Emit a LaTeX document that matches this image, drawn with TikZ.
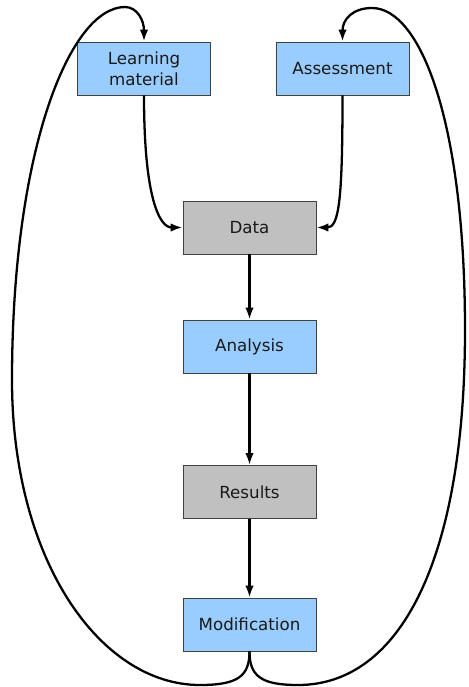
\documentclass[tikz,border=0pt]{standalone}
\usepackage{fontspec}
\setmainfont{DejaVu Sans}
\usepackage{tikz}
\usetikzlibrary{arrows.meta}
\definecolor{boxblue}{HTML}{99CCFF}
\definecolor{boxgray}{HTML}{C0C0C0}
\definecolor{boxline}{HTML}{404040}
\definecolor{textdark}{HTML}{1A1A1A}
\tikzset{
  stagebox/.style={
    draw=boxline,
    fill=boxblue,
    line width=0.5pt,
    align=center,
    text=textdark,
    font=\fontsize{9.5}{12}\selectfont,
    minimum width=2.66cm,
    minimum height=1.06cm,
    inner sep=2pt
  },
  stagebox2/.style={
    stagebox,
    fill=boxgray
  },
  flowarrow/.style={
    -{Latex[length=2.4mm,width=1.7mm]},
    line width=1.3pt,
    draw=black
  },
  loopline/.style={
    flowarrow
  }
}

\begin{document}
\begin{tikzpicture}[x=0.02cm, y=-0.02cm]
    \useasboundingbox (0,0) rectangle (468,687);

    \node[stagebox] (learn) at (144,68.5) {Learning\\material};
    \node[stagebox] (assess) at (342.5,68.5) {Assessment};
    \node[stagebox2] (data) at (249.5,227.5) {Data};
    \node[stagebox] (analysis) at (249.5,346.5) {Analysis};
    \node[stagebox2] (results) at (249.5,492) {Results};
    \node[stagebox] (modif) at (249.5,624.5) {Modification};

    % inputs into the data
    \draw[flowarrow] (learn.south) .. controls (144,200) and (160,227.5) .. (data.west);
    \draw[flowarrow] (assess.south) .. controls (342.5,200) and (339,227.5) .. (data.east);

    % main chain
    \draw[flowarrow] (data) -- (analysis);
    \draw[flowarrow] (analysis) -- (results);
    \draw[flowarrow] (results) -- (modif);

    % feedback loops
    \draw[loopline] (modif.south) .. controls (249.5,676) and (238,685) .. (200,685)
        .. controls (100,685) and (12,560) .. (12,380)
        .. controls (12,150) and (70,7) .. (125,7)
        .. controls (137,7) and (144,20) .. (learn.north);
    \draw[loopline] (modif.south) .. controls (249.5,676) and (261,685) .. (298,685)
        .. controls (400,685) and (465,560) .. (465,330)
        .. controls (465,120) and (420,8) .. (372,8)
        .. controls (352,8) and (342.5,20) .. (assess.north);
\end{tikzpicture}
\end{document}
